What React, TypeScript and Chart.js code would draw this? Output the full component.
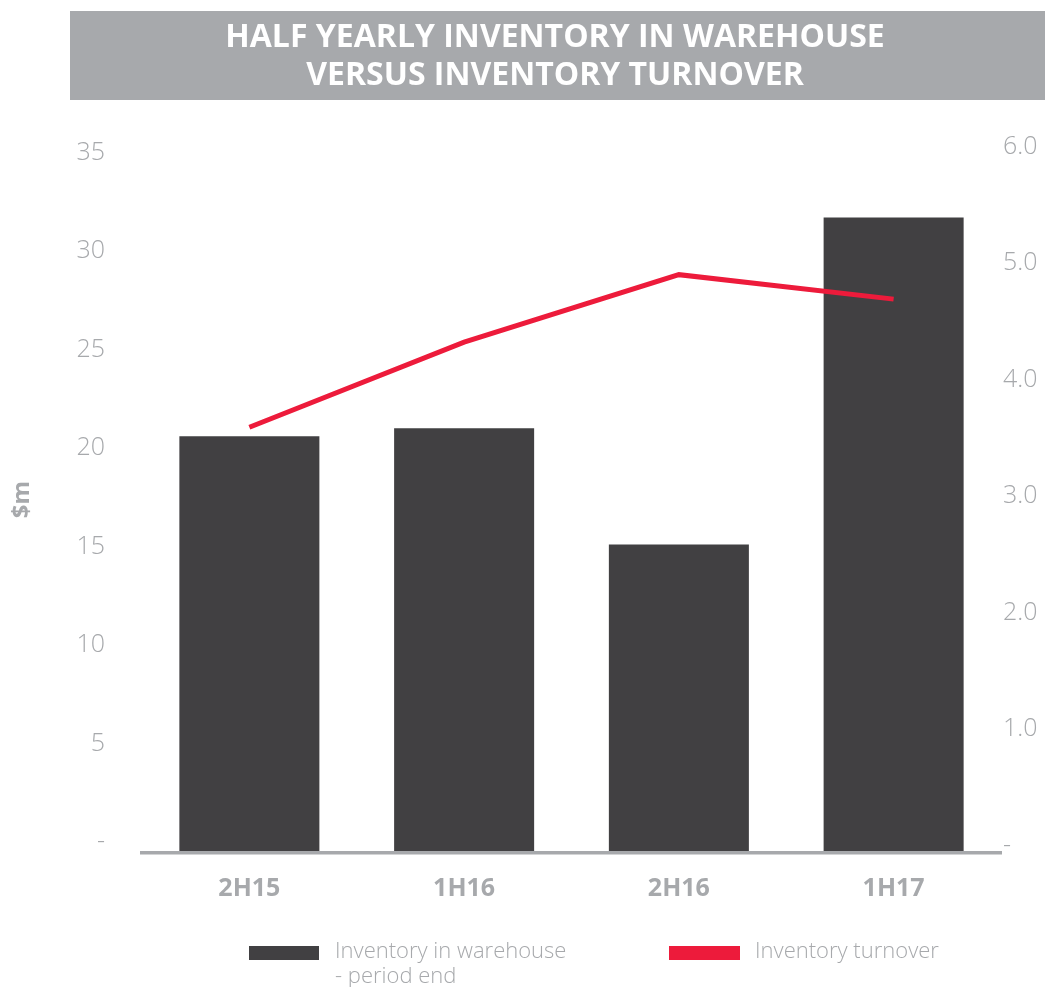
import { useEffect, useRef } from 'react';
import { Chart, registerables } from 'chart.js';

Chart.register(...registerables);

// ---------- data ----------
const categories = ['2H15', '1H16', '2H16', '1H17'];
const inventoryValues = [20.6, 21.0, 15.1, 31.7]; // $m, left axis
const turnoverValues = [3.59, 4.32, 4.9, 4.69]; // turns, right axis
const titleLines = ['HALF YEARLY INVENTORY IN WAREHOUSE', 'VERSUS INVENTORY TURNOVER'];
const inventoryLegend = ['Inventory in warehouse', '- period end'];
const turnoverLegend = ['Inventory turnover'];
const yAxisTitle = '$m';
const leftTickStep = 5;
const rightTickStep = 1;

// ---------- styles ----------
const FONT = "'Open Sans', sans-serif";
const BAR_COLOR = '#414042';
const LINE_COLOR = '#ed1b3b';
const GRAY_TEXT = '#a7a9ac';
const AXIS_GRAY = '#a7a9ac';
const BANNER_GRAY = '#a7a9ac';

const LEFT_MIN = -0.533;
const LEFT_MAX = 35.305;
const RIGHT_MIN = -0.06;
const RIGHT_MAX = 6;

const bannerPlugin = {
  id: 'banner',
  beforeDraw(chart: any) {
    const { ctx } = chart;
    ctx.save();
    ctx.fillStyle = BANNER_GRAY;
    ctx.fillRect(70, 11, chart.width - 70, 89);
    ctx.restore();
  },
};

const legendPlugin = {
  id: 'twoLineLegend',
  afterDraw(chart: any) {
    const { ctx } = chart;
    const ds = chart.data.datasets;
    const items = [
      { lines: inventoryLegend, color: ds[1].backgroundColor, x: 249, w: 70 },
      { lines: turnoverLegend, color: ds[0].borderColor, x: 669, w: 71 },
    ];
    ctx.save();
    ctx.font = `300 22px ${FONT}`;
    ctx.textBaseline = 'middle';
    ctx.textAlign = 'left';
    items.forEach((it) => {
      ctx.fillStyle = it.color;
      ctx.fillRect(it.x, 946, it.w, 14);
      ctx.fillStyle = GRAY_TEXT;
      it.lines.forEach((line, i) => ctx.fillText(line, it.x + 86, 952 + i * 25));
    });
    ctx.restore();
  },
};

export default function App() {
  const canvasRef = useRef<HTMLCanvasElement | null>(null);

  useEffect(() => {
    document.body.style.margin = '0';
    document.body.style.overflow = 'hidden';
    const canvas = canvasRef.current;
    if (!canvas) return;

    const chart = new Chart(canvas, {
      type: 'bar',
      data: {
        labels: categories,
        datasets: [
          {
            type: 'line',
            label: turnoverLegend.join(' '),
            data: turnoverValues,
            yAxisID: 'y1',
            borderColor: LINE_COLOR,
            backgroundColor: LINE_COLOR,
            borderWidth: 5,
            pointRadius: 0,
            pointHoverRadius: 0,
            tension: 0,
            fill: false,
            order: 0,
          } as any,
          {
            type: 'bar',
            label: inventoryLegend.join(' '),
            data: inventoryValues,
            yAxisID: 'y',
            backgroundColor: BAR_COLOR,
            base: LEFT_MIN,
            barPercentage: 0.652,
            categoryPercentage: 1,
            order: 1,
          } as any,
        ],
      },
      options: {
        responsive: false,
        animation: false,
        events: [],
        layout: { padding: { left: 0, right: -65, top: 0, bottom: 0 } },
        font: { family: FONT },
        plugins: {
          legend: { display: false },
          tooltip: { enabled: false },
          title: {
            display: true,
            text: titleLines,
            color: '#ffffff',
            font: { family: FONT, size: 32, weight: 'bold', lineHeight: 1.1875 },
            padding: { top: 19, bottom: 51.5 },
          },
        },
        scales: {
          x: {
            grid: { display: false, drawTicks: false },
            border: { display: true, color: AXIS_GRAY, width: 3.5, z: 1 },
            ticks: {
              color: GRAY_TEXT,
              font: { family: FONT, size: 25, weight: 'bold' },
              padding: 21,
              maxRotation: 0,
            },
            afterFit: (s: any) => {
              s.height = 134.5;
            },
          },
          y: {
            position: 'left',
            min: LEFT_MIN,
            max: LEFT_MAX,
            grid: { display: false, drawTicks: false },
            border: { display: false },
            ticks: {
              stepSize: leftTickStep,
              includeBounds: false,
              padding: 37,
              color: GRAY_TEXT,
              font: { family: FONT, size: 25, weight: 300 as any },
              callback: (v: any) => (Number(v) === 0 ? '-' : String(v)),
            },
            title: {
              display: true,
              text: yAxisTitle,
              color: GRAY_TEXT,
              font: { family: FONT, size: 24, weight: 'bold' },
              padding: { top: 7.6, bottom: 0 },
            },
            afterFit: (s: any) => {
              s.width = 142;
            },
          },
          y1: {
            position: 'right',
            min: RIGHT_MIN,
            max: RIGHT_MAX,
            grid: { display: false, drawTicks: false },
            border: { display: false },
            ticks: {
              stepSize: rightTickStep,
              includeBounds: false,
              padding: 2,
              color: GRAY_TEXT,
              font: { family: FONT, size: 25, weight: 300 as any },
              callback: (v: any) => (Number(v) === 0 ? '-' : Number(v).toFixed(1)),
            },
            afterFit: (s: any) => {
              s.width = 109;
            },
          },
        },
      } as any,
      plugins: [bannerPlugin, legendPlugin],
    });

    return () => chart.destroy();
  }, []);

  return (
    <div style={{ width: 1045, height: 987 }}>
      <canvas ref={canvasRef} width={1045} height={987} style={{ display: 'block' }} />
    </div>
  );
}
